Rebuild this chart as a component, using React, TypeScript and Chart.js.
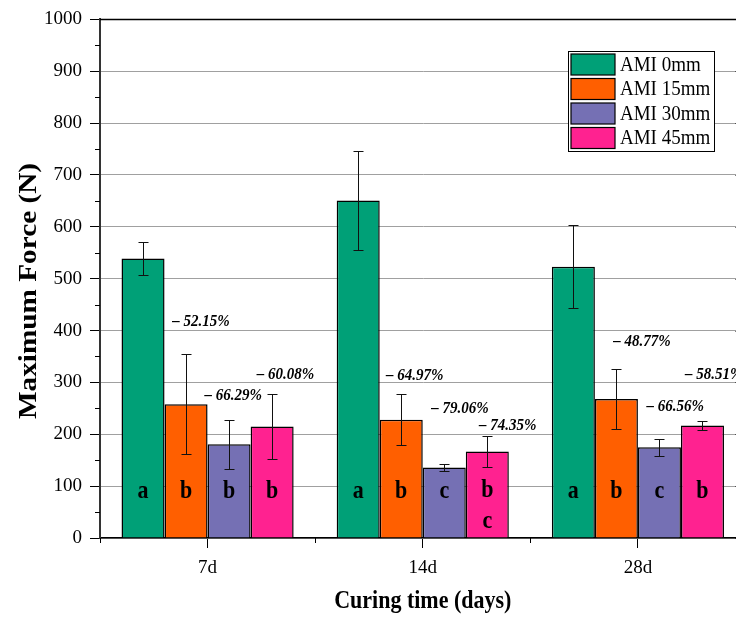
import React, { useEffect, useRef } from 'react';
import { Chart, registerables } from 'chart.js';

Chart.register(...registerables);

const categories = ['7d', '14d', '28d'];
const seriesNames = ['AMI 0mm', 'AMI 15mm', 'AMI 30mm', 'AMI 45mm'];

const ami0 = [539, 651, 523];
const ami15 = [258, 228, 268];
const ami30 = [181, 136, 175];
const ami45 = [215, 167, 217];

const err0 = [32, 95, 80];
const err15 = [96, 49, 57];
const err30 = [47, 7, 16];
const err45 = [63, 30, 8];

const letters0 = ['a', 'a', 'a'];
const letters15 = ['b', 'b', 'b'];
const letters30 = ['b', 'c', 'c'];
const letters45 = ['b', 'b\nc', 'b'];

const annTexts = ['– 52.15%', '– 66.29%', '– 60.08%', '– 64.97%', '– 79.06%', '– 74.35%', '– 48.77%', '– 66.56%', '– 58.51%'];
const annX = [-0.164, -0.014, 0.228, 0.829, 1.039, 1.262, 1.885, 2.04, 2.219];
const annY = [418, 275, 315, 313, 249, 216, 379, 254, 315];

const yTicksMax = 1000;
const yStep = 100;

const colors = ['#00A077', '#FF5F00', '#7570B4', '#FF2290'];
const FONT = '"Liberation Serif", "Times New Roman", serif';

const series = [ami0, ami15, ami30, ami45];
const errors = [err0, err15, err30, err45];
const letters = [letters0, letters15, letters30, letters45];

const decorPlugin = {
  id: 'decor',
  afterDatasetsDraw(chart: any) {
    const ctx = chart.ctx as CanvasRenderingContext2D;
    const y = chart.scales.y;
    const x = chart.scales.x;
    ctx.save();
    // error bars
    ctx.strokeStyle = '#111';
    ctx.lineWidth = 1;
    errors.forEach((errArr, di) => {
      const meta = chart.getDatasetMeta(di);
      meta.data.forEach((bar: any, i: number) => {
        const v = series[di][i];
        const e = errArr[i];
        const cx = Math.round(bar.x) + 0.5;
        const yt = Math.round(y.getPixelForValue(v + e)) + 0.5;
        const yb = Math.round(y.getPixelForValue(v - e)) + 0.5;
        ctx.beginPath();
        ctx.moveTo(cx, yt); ctx.lineTo(cx, yb);
        ctx.moveTo(cx - 5, yt); ctx.lineTo(cx + 5, yt);
        ctx.moveTo(cx - 5, yb); ctx.lineTo(cx + 5, yb);
        ctx.stroke();
      });
    });
    // letters
    ctx.fillStyle = '#000';
    ctx.font = `bold 22px ${FONT}`;
    ctx.textAlign = 'center';
    ctx.textBaseline = 'alphabetic';
    letters.forEach((arr, di) => {
      const meta = chart.getDatasetMeta(di);
      meta.data.forEach((bar: any, i: number) => {
        const lines = arr[i].split('\n');
        const base = y.getPixelForValue(lines.length > 1 ? 80 : 78);
        lines.forEach((ln: string, k: number) => {
          ctx.save();
          ctx.translate(bar.x, base + k * 31);
          ctx.scale(1, 1.12);
          ctx.fillText(ln, 0, 0);
          ctx.restore();
        });
      });
    });
    // annotations
    const p0 = x.getPixelForValue(0);
    const p1 = x.getPixelForValue(1);
    ctx.font = `italic bold 15px ${FONT}`;
    ctx.textAlign = 'left';
    ctx.textBaseline = 'middle';
    annTexts.forEach((t, i) => {
      const px = p0 + annX[i] * (p1 - p0);
      const py = y.getPixelForValue(annY[i]);
      ctx.save();
      ctx.translate(px, py);
      ctx.scale(1, 1.12);
      ctx.fillText(t, 0, 0);
      ctx.restore();
    });
    ctx.restore();
  },
  afterDraw(chart: any) {
    const ctx = chart.ctx as CanvasRenderingContext2D;
    const ca = chart.chartArea;
    const y = chart.scales.y;
    const x = chart.scales.x;
    ctx.save();
    // top border
    ctx.strokeStyle = '#000';
    ctx.lineWidth = 1.5;
    ctx.beginPath();
    ctx.moveTo(ca.left, ca.top);
    ctx.lineTo(ca.right, ca.top);
    ctx.stroke();
    // right border
    ctx.beginPath();
    ctx.moveTo(ca.right, ca.top);
    ctx.lineTo(ca.right, ca.bottom);
    ctx.stroke();
    // y ticks right (inward) and minor ticks
    ctx.lineWidth = 1;
    ctx.strokeStyle = '#000';
    ctx.beginPath();
    for (let v = 0; v <= yTicksMax; v += yStep / 2) {
      const py = Math.round(y.getPixelForValue(v)) + 0.5;
      const major = v % yStep === 0;
      const len = major ? 10 : 5;
      ctx.moveTo(ca.right, py); ctx.lineTo(ca.right - len, py);
      if (!major) { ctx.moveTo(ca.left, py); ctx.lineTo(ca.left - 5, py); }
    }
    // x minor ticks at category boundaries
    const p0 = x.getPixelForValue(0);
    const p1 = x.getPixelForValue(1);
    const w = p1 - p0;
    for (let i = 0; i <= categories.length; i++) {
      const px = Math.round(p0 - w / 2 + i * w) + 0.5;
      ctx.moveTo(px, ca.bottom); ctx.lineTo(px, ca.bottom + 5);
    }
    ctx.stroke();

    // legend
    const lx = 568, ly = 51, lw = 146, lh = 100;
    ctx.fillStyle = '#fff';
    ctx.fillRect(lx, ly, lw, lh);
    ctx.strokeStyle = '#000';
    ctx.lineWidth = 1;
    ctx.strokeRect(lx + 0.5, ly + 0.5, lw, lh);
    ctx.font = `19px ${FONT}`;
    ctx.textAlign = 'left';
    ctx.textBaseline = 'middle';
    chart.data.datasets.forEach((ds: any, i: number) => {
      const sy = ly + 3 + i * 24.5;
      ctx.fillStyle = ds.backgroundColor;
      ctx.fillRect(lx + 3, sy, 44, 21);
      ctx.strokeStyle = '#000';
      ctx.lineWidth = 1.2;
      ctx.strokeRect(lx + 3, sy, 44, 21);
      ctx.fillStyle = '#000';
      ctx.save();
      ctx.translate(lx + 52, sy + 11.5);
      ctx.scale(1, 1.1);
      ctx.fillText(ds.label, 0, 0);
      ctx.restore();
    });

    // axis titles
    ctx.fillStyle = '#000';
    ctx.font = `bold 22px ${FONT}`;
    ctx.textAlign = 'center';
    ctx.textBaseline = 'alphabetic';
    ctx.save();
    ctx.translate((ca.left + ca.right) / 2, 608);
    ctx.scale(1, 1.18);
    ctx.fillText('Curing time (days)', 0, 0);
    ctx.restore();

    ctx.font = `bold 25px ${FONT}`;
    ctx.save();
    ctx.translate(36, 291);
    ctx.rotate(-Math.PI / 2);
    ctx.scale(1.17, 1);
    ctx.fillText('Maximum Force (N)', 0, 0);
    ctx.restore();
    ctx.restore();
  },
};

export default function App() {
  const ref = useRef<HTMLCanvasElement>(null);
  useEffect(() => {
    if (!ref.current) return;
    const chart = new Chart(ref.current, {
      type: 'bar',
      data: {
        labels: categories,
        datasets: series.map((s, i) => ({
          label: seriesNames[i],
          data: s,
          backgroundColor: colors[i],
          borderColor: '#000',
          borderWidth: 1.5,
          categoryPercentage: 0.8,
          barPercentage: 1.0,
        })),
      },
      options: {
        animation: false,
        responsive: false,
        devicePixelRatio: 1,
        layout: { padding: { top: 18, right: 14.5, bottom: 0, left: 0 } },
        plugins: { legend: { display: false }, tooltip: { enabled: false } },
        scales: {
          x: {
            type: 'category',
            offset: true,
            grid: { display: true, drawOnChartArea: false, drawTicks: true, tickLength: 10, tickColor: '#000', offset: false, tickWidth: 1 },
            border: { display: true, color: '#000', width: 1.5 },
            ticks: { font: { family: FONT, size: 19 }, color: '#000', padding: 9 },
            afterFit: (s: any) => { s.height = 79; },
          },
          y: {
            min: 0,
            max: yTicksMax,
            ticks: {
              stepSize: yStep,
              font: { family: FONT, size: 19 },
              color: '#000',
              padding: 8,
              callback: (v: any) => String(v),
            },
            grid: { color: '#a0a0a0', lineWidth: 1, drawTicks: true, tickLength: 10, tickColor: '#000', tickWidth: 1 },
            border: { display: true, color: '#333', width: 2 },
            afterFit: (s: any) => { s.width = 100; },
          },
        },
      },
      plugins: [decorPlugin],
    });
    return () => chart.destroy();
  }, []);
  return (
    <div style={{ position: 'fixed', left: 0, top: 0, width: 736, height: 617, overflow: 'hidden', background: '#fff' }}>
      <canvas ref={ref} width={760} height={617} style={{ display: 'block' }} />
    </div>
  );
}
